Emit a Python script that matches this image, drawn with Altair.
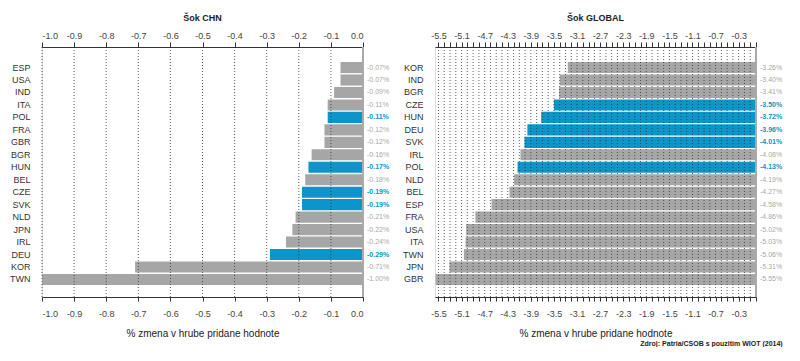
import altair as alt
import pandas as pd

# ---- data ----
chn_countries = ["ESP", "USA", "IND", "ITA", "POL", "FRA", "GBR", "BGR", "HUN",
                 "BEL", "CZE", "SVK", "NLD", "JPN", "IRL", "DEU", "KOR", "TWN"]
chn_values = [-0.07, -0.07, -0.09, -0.11, -0.11, -0.12, -0.12, -0.16, -0.17,
              -0.18, -0.19, -0.19, -0.21, -0.22, -0.24, -0.29, -0.71, -1.00]
chn_highlight = ["POL", "HUN", "CZE", "SVK", "DEU"]

glob_countries = ["KOR", "IND", "BGR", "CZE", "HUN", "DEU", "SVK", "IRL", "POL",
                  "NLD", "BEL", "ESP", "FRA", "USA", "ITA", "TWN", "JPN", "GBR"]
glob_values = [-3.26, -3.40, -3.41, -3.50, -3.72, -3.96, -4.01, -4.08, -4.13,
               -4.19, -4.27, -4.58, -4.86, -5.02, -5.03, -5.06, -5.31, -5.55]
glob_highlight = ["CZE", "HUN", "DEU", "SVK", "POL"]

chn_ticks = [round(-1.0 + 0.1 * i, 1) for i in range(11)]
glob_ticks = [round(-5.5 + 0.1 * i, 1) for i in range(56)]

x_title = "% zmena v hrube pridane hodnote"
source_text = "Zdroj: Patria/CSOB s pouzitim WIOT (2014)"

GRAY = "#a6a6a6"
BLUE = "#0b95c8"
FONT = "Liberation Sans"
MINUS = "\u2212"


def panel(countries, values, highlight, domain, ticks, label_expr, title):
    df = pd.DataFrame({"country": countries, "value": values})
    df["group"] = ["hl" if c in highlight else "base" for c in countries]
    df["label"] = [f"{v:.2f}%" for v in values]
    grid_df = pd.DataFrame({"tick": [t for t in ticks if t != 0]})

    xscale = alt.Scale(domain=domain, nice=False)
    yenc = alt.Y(
        "country:N", sort=countries, title=None,
        scale=alt.Scale(range=[15, 238], paddingInner=0.11, paddingOuter=0),
        axis=alt.Axis(domain=False, ticks=False, labelPadding=12, labelFontSize=9,
                      labelColor="#333", labelFont=FONT),
    )
    bottom_axis = alt.Axis(
        orient="bottom", values=ticks, labelExpr=label_expr, grid=False,
        tickSize=4, tickColor="#333", domainColor="#333",
        labelFontSize=9, labelColor="#444", labelPadding=8, labelFont=FONT,
        title=x_title, titleFontSize=10, titleFontWeight="normal",
        titleColor="#222", titlePadding=10, titleFont=FONT,
    )
    top_axis = alt.Axis(
        orient="top", values=ticks, labelExpr=label_expr, grid=False,
        tickSize=5, tickColor="#333", domainColor="#333", labelFontSize=9,
        labelColor="#444", labelPadding=2, labelFont=FONT, title=None,
    )
    base = alt.Chart(df)
    bars = base.mark_bar().encode(
        x=alt.X("value:Q", scale=xscale, axis=bottom_axis),
        y=yenc,
        color=alt.Color("group:N", scale=alt.Scale(domain=["base", "hl"], range=[GRAY, BLUE]),
                        legend=None),
    )
    grid = alt.Chart(grid_df).mark_rule(
        color="#333", strokeWidth=0.8, strokeDash=[1, 2]
    ).encode(x=alt.X("tick:Q", scale=xscale, axis=None))
    zero = base.mark_rule(color="#aaaaaa", strokeWidth=2).encode(
        x=alt.X(datum=0, scale=xscale, axis=top_axis)
    )
    lab_gray = base.transform_filter("datum.group === 'base'").mark_text(
        align="left", dx=4, fontSize=7, color="#a8a8a8", font=FONT
    ).encode(x=alt.X(datum=0, scale=xscale, axis=None),
             y=alt.Y("country:N", sort=countries), text="label:N")
    lab_blue = base.transform_filter("datum.group === 'hl'").mark_text(
        align="left", dx=4, fontSize=7, fontWeight="bold", color=BLUE, font=FONT
    ).encode(x=alt.X(datum=0, scale=xscale, axis=None),
             y=alt.Y("country:N", sort=countries), text="label:N")

    return alt.layer(bars, grid, zero, lab_gray, lab_blue).resolve_axis(x="independent").properties(
        width=321, height=250,
        title=alt.TitleParams(title, fontSize=9, fontWeight="bold", color="#222",
                              offset=8, font=FONT),
    )


left_expr = f"replace(format(datum.value, '.1f'), '{MINUS}', '-')"
right_expr = (f"round((datum.value + 5.5) * 10) % 4 === 0 ? "
              f"replace(format(datum.value, '.1f'), '{MINUS}', '-') : ''")

left = panel(chn_countries, chn_values, chn_highlight, [-1.0, 0.0], chn_ticks, left_expr, "Šok CHN")
right = panel(glob_countries, glob_values, glob_highlight, [-5.56, 0.0], glob_ticks, right_expr, "Šok GLOBAL")

chart = alt.hconcat(left, right, spacing=12).properties(
    title=alt.TitleParams(source_text, orient="bottom", anchor="end", fontSize=7,
                          fontWeight="bold", color="#222", offset=1, font=FONT),
    padding={"left": 1, "top": 5, "right": 5, "bottom": 0},
).configure_view(stroke=None).configure(font=FONT)

chart.save("out.html", embed_options={"renderer": "svg", "actions": False})
